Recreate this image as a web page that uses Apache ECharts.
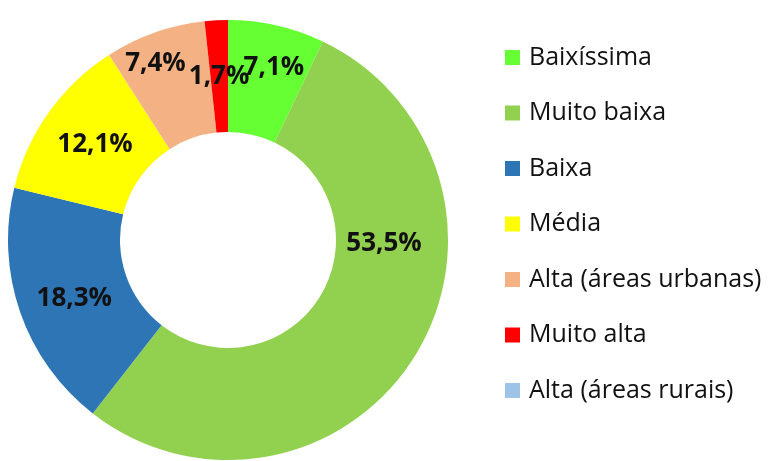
<!DOCTYPE html>
<html>
<head>
<meta charset="utf-8">
<script src="https://cdn.jsdelivr.net/npm/echarts@6/dist/echarts.min.js"></script>
<style>
  html, body { margin: 0; padding: 0; background: #fff; }
  #chart { width: 779px; height: 461px; }
</style>
</head>
<body>
<div id="chart"></div>
<script>
  // classes and their share (%)
  var categories = ['Baixíssima', 'Muito baixa', 'Baixa', 'Média', 'Alta (áreas urbanas)', 'Muito alta', 'Alta (áreas rurais)'];
  var values = [7.1, 53.5, 18.3, 12.1, 7.4, 1.7, 0];
  var colors = ['#66FF33', '#92D050', '#2E75B6', '#FFFF00', '#F4B183', '#FF0000', '#9DC3E6'];
  // labels that were dragged away from the ring middle
  var labelOffsets = [[9, -10], [14, -84], [4, 4], [3, 2], [-17, -19], [0, 3], [0, 0]];

  var chart = echarts.init(document.getElementById('chart'));

  var seriesData = categories.map(function (name, i) {
    return {
      name: name,
      value: values[i],
      itemStyle: { color: colors[i] },
      label: { offset: labelOffsets[i], show: values[i] > 0 }
    };
  });

  chart.setOption({
    animation: false,
    legend: {
      orient: 'vertical',
      left: 500,
      top: 40,
      icon: 'rect',
      itemWidth: 15,
      itemHeight: 15,
      itemGap: 30.5,
      selectedMode: false,
      data: categories,
      textStyle: {
        fontFamily: 'Open Sans',
        fontSize: 25,
        color: '#111',
        padding: [0, 0, 0, 4]
      }
    },
    series: [{
      type: 'pie',
      center: [228, 240],
      radius: [108, 220],
      startAngle: 90,
      clockwise: true,
      avoidLabelOverlap: false,
      labelLayout: { hideOverlap: false },
      itemStyle: { borderWidth: 0 },
      label: {
        position: 'inside',
        fontFamily: 'Open Sans',
        fontWeight: 'bold',
        fontSize: 26,
        color: '#111',
        formatter: function (p) {
          return p.value.toFixed(1).replace('.', ',') + '%';
        }
      },
      labelLine: { show: false },
      emphasis: { disabled: true },
      data: seriesData
    }]
  });
</script>
</body>
</html>
